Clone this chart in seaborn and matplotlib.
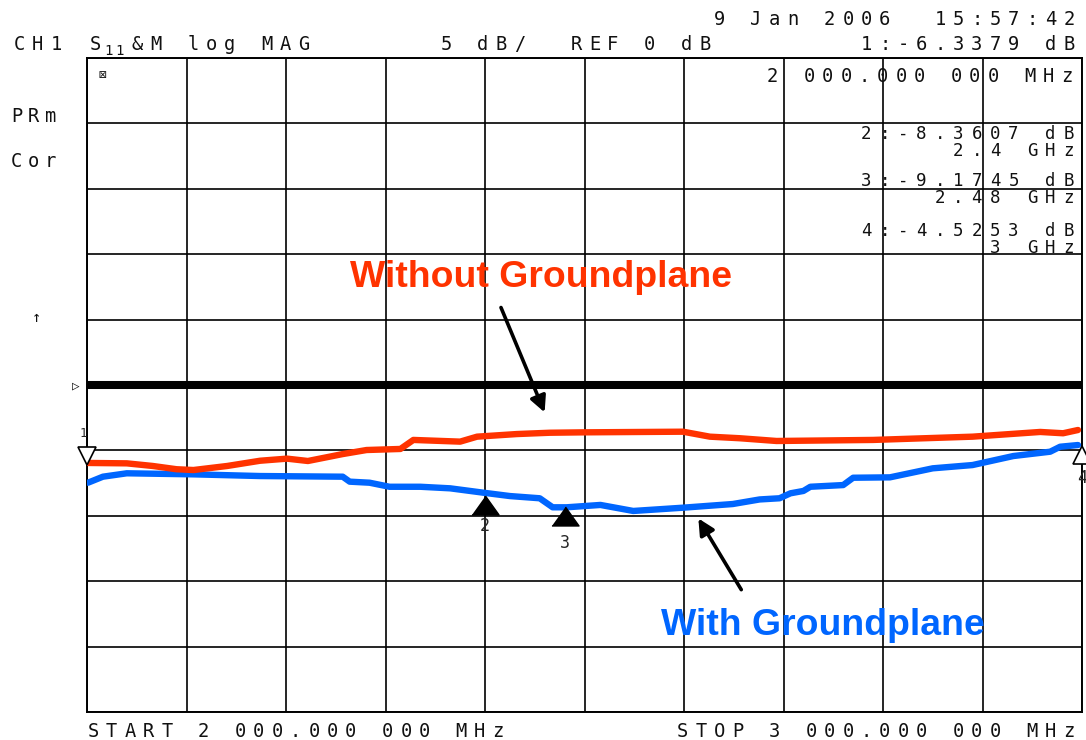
# -*- coding: utf-8 -*-

"""
Network analyzer screen (S11 log MAG, 2-3 GHz) with and without groundplane.
"""

import pandas as pd
import seaborn as sns
import matplotlib.pyplot as plt
from matplotlib.transforms import offset_copy

# trace without groundplane (red), frequency in GHz, magnitude in dB
freq_without = [2.001, 2.040, 2.066, 2.090, 2.107, 2.141, 2.174, 2.201, 2.222, 2.257,
                2.281, 2.315, 2.328, 2.375, 2.392, 2.432, 2.465, 2.498, 2.599, 2.626,
                2.656, 2.693, 2.790, 2.890, 2.958, 2.981, 2.996]
db_without = [-5.96, -5.99, -6.19, -6.44, -6.50, -6.19, -5.79, -5.63, -5.81, -5.28,
              -4.97, -4.89, -4.20, -4.33, -3.95, -3.75, -3.65, -3.62, -3.57, -3.95,
              -4.07, -4.28, -4.20, -3.95, -3.59, -3.69, -3.44]

# trace with groundplane (blue)
freq_with = [2.001, 2.016, 2.040, 2.107, 2.174, 2.257, 2.264, 2.284, 2.304, 2.335,
             2.365, 2.398, 2.425, 2.455, 2.468, 2.482, 2.516, 2.549, 2.599, 2.649,
             2.676, 2.696, 2.707, 2.720, 2.727, 2.760, 2.770, 2.807, 2.850, 2.890,
             2.931, 2.968, 2.978, 2.996]
db_with = [-7.47, -7.01, -6.75, -6.83, -6.96, -7.01, -7.39, -7.47, -7.78, -7.78,
           -7.90, -8.23, -8.49, -8.66, -9.35, -9.35, -9.17, -9.63, -9.38, -9.10,
           -8.75, -8.66, -8.28, -8.10, -7.78, -7.65, -7.09, -7.06, -6.37, -6.12,
           -5.43, -5.10, -4.72, -4.59]

# analyzer markers
marker_names = ['1', '2', '3', '4']
marker_freq = [2.0, 2.4, 2.48, 3.0]
marker_db = [-6.3379, -8.3607, -9.1745, -4.5253]

red = '#ff3300'
blue = '#0066ff'

sns.set_style('white')
plt.rcParams['font.family'] = ['DejaVu Sans Mono', 'DejaVu Sans']

W, H = 1086, 740
fig = plt.figure(figsize=(W / 100, H / 100), dpi=100)
ax = fig.add_axes([87 / W, 1 - 712 / H, (1082 - 87) / W, 654 / H])

df = pd.concat([
    pd.DataFrame({'freq': freq_with, 'db': db_with, 'trace': 'With Groundplane'}),
    pd.DataFrame({'freq': freq_without, 'db': db_without, 'trace': 'Without Groundplane'}),
])
sns.lineplot(data=df, x='freq', y='db', hue='trace', estimator=None,
             palette={'With Groundplane': blue, 'Without Groundplane': red},
             linewidth=4.6, legend=False, ax=ax, zorder=4)

ax.set_xlim(2.0, 3.0)
ax.set_ylim(-25, 25)
ax.set_xticks([2.0 + 0.1 * i for i in range(11)])
ax.set_yticks(range(-25, 26, 5))
ax.grid(True, color='black', linewidth=1.2)
ax.tick_params(length=0, labelbottom=False, labelleft=False)
ax.set_xlabel('')
ax.set_ylabel('')
for sp in ax.spines.values():
    sp.set_color('black')
    sp.set_linewidth(1.4)

# reference line (REF 0 dB)
ax.axhline(0, color='black', linewidth=5.8, zorder=3)

# markers
below = offset_copy(ax.transData, fig=fig, x=0, y=-11, units='dots')
above = offset_copy(ax.transData, fig=fig, x=0, y=12, units='dots')
tri_up = [(-0.5, -0.35), (0.5, -0.35), (0.0, 0.35)]
ax.plot(marker_freq[0], marker_db[0], marker='v', ms=13.5, mfc='white', mec='black',
        mew=1.2, transform=above, clip_on=False, zorder=6)
ax.plot(marker_freq[1:3], marker_db[1:3], linestyle='none', marker=tri_up, ms=19.5,
        mfc='black', mec='black', transform=below, clip_on=False, zorder=6)
ax.plot(marker_freq[3], marker_db[3], marker='^', ms=13.5, mfc='white', mec='black',
        mew=1.2, transform=below, clip_on=False, zorder=6)

lab_off = [(-4, 34), (0, -32), (0, -38), (0, -34)]
for name, f, d, (dx, dy) in zip(marker_names, marker_freq, marker_db, lab_off):
    tr = offset_copy(ax.transData, fig=fig, x=dx, y=dy, units='dots')
    ax.text(f, d, name, transform=tr, ha='center', va='center',
            fontsize=9 if name == '1' else 12, clip_on=False, zorder=6)

# annotations
ax.text(2.456, 7.49, 'Without Groundplane', color=red, fontsize=26.9,
        fontweight='bold', family='Liberation Sans', ha='center', va='baseline', zorder=7)
ax.text(2.740, -19.11, 'With Groundplane', color=blue, fontsize=26.9,
        fontweight='bold', family='Liberation Sans', ha='center', va='baseline', zorder=7)
ax.annotate('', xy=(2.461, -2.29), xytext=(2.415, 6.12),
            arrowprops=dict(arrowstyle='-|>', color='black', lw=2.6, mutation_scale=24))
ax.annotate('', xy=(2.613, -10.02), xytext=(2.659, -15.83),
            arrowprops=dict(arrowstyle='-|>', color='black', lw=2.6, mutation_scale=24))


def mono(x, y, s, size=13.5, pitch=18.4, right=False):
    """instrument style text, one character per fixed cell (pixel coords)"""
    if right:
        x = x - len(s) * pitch
    for i, ch in enumerate(s):
        if ch != ' ':
            fig.text((x + (i + 0.5) * pitch) / W, 1 - y / H, ch, fontsize=size,
                     ha='center', va='baseline', color='#111111')


mono(1078, 25, '9 Jan 2006  15:57:42', right=True)
mono(10, 50, 'CH1')
mono(86, 50, 'S')
mono(103, 55, '11', size=10, pitch=11)
mono(128, 50, '&M')
mono(184, 50, 'log')
mono(258, 50, 'MAG')
mono(437, 50, '5 dB/')
mono(567, 50, 'REF 0 dB')
mono(1078, 50, '1:-6.3379 dB', right=True)
mono(1076, 82, '2 000.000 000 MHz', right=True)
mono(1078, 139, '2:-8.3607 dB', size=12.5, right=True)
mono(1078, 156, '2.4 GHz', size=12.5, right=True)
mono(1078, 186, '3:-9.1745 dB', size=12.5, right=True)
mono(1078, 203, '2.48 GHz', size=12.5, right=True)
mono(1078, 236, '4:-4.5253 dB', size=12.5, right=True)
mono(1078, 253, '3 GHz', size=12.5, right=True)
mono(8, 122, 'PRm', pitch=17)
mono(8, 167, 'Cor', pitch=17)
mono(27, 322, '↑', size=11)
mono(70, 390, '▷', size=9, pitch=12)
mono(96, 79, '⊠', size=9, pitch=12)
mono(84, 737, 'START 2 000.000 000 MHz')
mono(1078, 737, 'STOP 3 000.000 000 MHz', right=True)

plt.savefig('out.png', dpi=100)
